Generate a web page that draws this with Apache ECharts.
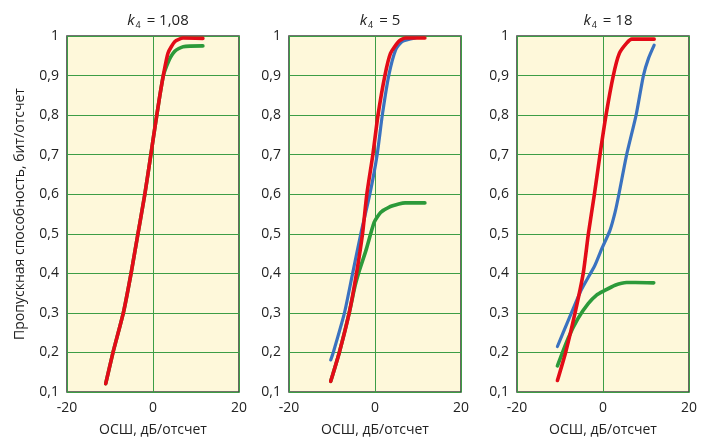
<!DOCTYPE html>
<html><head><meta charset="utf-8">
<script src="https://cdn.jsdelivr.net/npm/echarts@6/dist/echarts.min.js"></script>
<style>html,body{margin:0;padding:0;background:#fff}#c{width:701px;height:442px}</style>
</head><body><div id="c"></div>
<script>
// Panel titles (k4 values)
var panelK = ['1,08', '5', '18'];
var xTicks = [-20, 0, 20];
var yTicks = [0.1, 0.2, 0.3, 0.4, 0.5, 0.6, 0.7, 0.8, 0.9, 1];

// Panel 1 (k4 = 1,08)
var p1RedX = [-11.0, -9.3, -6.9, -5.1, -3.5, -1.9, -0.5, 0.6, 1.6, 2.4, 3.5, 5.1, 7.0, 11.6];
var p1RedY = [0.121, 0.2, 0.3, 0.4, 0.5, 0.6, 0.7, 0.78, 0.85, 0.9, 0.957, 0.986, 0.995, 0.994];
var p1GreenX = [-11.0, -9.3, -6.9, -5.1, -3.5, -1.9, -0.5, 0.6, 1.6, 2.4, 3.2, 4.0, 5.1, 7.0, 11.6];
var p1GreenY = [0.121, 0.2, 0.3, 0.4, 0.5, 0.6, 0.7, 0.78, 0.85, 0.9, 0.925, 0.945, 0.962, 0.973, 0.975];

// Panel 2 (k4 = 5)
var p2RedX = [-10.3, -8.3, -6.0, -4.3, -2.9, -1.9, -0.5, 0.7, 2.3, 3.6, 5.5, 7.0, 11.6];
var p2RedY = [0.127, 0.2, 0.3, 0.4, 0.5, 0.6, 0.70, 0.80, 0.90, 0.956, 0.986, 0.995, 0.995];
var p2BlueX = [-10.3, -9.7, -7.1, -5.2, -3.3, -1.2, 0.5, 1.7, 3.2, 4.8, 6.3, 9.4];
var p2BlueY = [0.181, 0.2, 0.3, 0.4, 0.5, 0.6, 0.70, 0.80, 0.90, 0.965, 0.986, 0.995];
var p2GreenX = [-10.3, -8.3, -6.0, -4.6, -3.7, -2.1, -0.2, 1.3, 3.2, 5.5, 7.0, 11.6];
var p2GreenY = [0.127, 0.2, 0.3, 0.37, 0.405, 0.458, 0.529, 0.554, 0.567, 0.575, 0.578, 0.578];

// Panel 3 (k4 = 18)
var p3RedX = [-10.6, -8.7, -6.5, -4.6, -3.4, -2.0, -0.7, 0.7, 2.4, 3.8, 5.5, 6.7, 11.9];
var p3RedY = [0.129, 0.2, 0.3, 0.4, 0.5, 0.6, 0.70, 0.80, 0.90, 0.956, 0.982, 0.992, 0.992];
var p3BlueX = [-10.6, -8.0, -5.1, -1.9, -0.3, 1.6, 2.8, 3.7, 5.5, 7.7, 9.4, 10.6, 11.9];
var p3BlueY = [0.215, 0.283, 0.357, 0.42, 0.462, 0.508, 0.554, 0.6, 0.70, 0.80, 0.90, 0.944, 0.977];
var p3GreenX = [-10.6, -8.1, -5.8, -3.4, -1.5, 0.1, 2.8, 5.5, 7.5, 11.8];
var p3GreenY = [0.166, 0.236, 0.286, 0.324, 0.345, 0.355, 0.370, 0.377, 0.377, 0.376];

var xName = 'ОСШ, дБ/отсчет';
var yName = 'Пропускная способность, бит/отсчет';

function zip(xs, ys) { return xs.map(function (x, i) { return [x, ys[i]]; }); }

var panels = [
  {left: 67, green: zip(p1GreenX, p1GreenY), blue: null, red: zip(p1RedX, p1RedY)},
  {left: 289, green: zip(p2GreenX, p2GreenY), blue: zip(p2BlueX, p2BlueY), red: zip(p2RedX, p2RedY)},
  {left: 517, green: zip(p3GreenX, p3GreenY), blue: zip(p3BlueX, p3BlueY), red: zip(p3RedX, p3RedY)}
];
var W = 172, TOP = 36, H = 358;
var FONT = '"Open Sans", "Noto Sans", sans-serif';
var COL = {red: '#E30B17', blue: '#3A72C0', green: '#2C9A3A'};
var gridCol = '#3D9D45';

var grids = [], xAxes = [], yAxes = [], series = [], titles = [];
panels.forEach(function (p, i) {
  grids.push({left: p.left, top: TOP, width: W, height: H, show: true,
    backgroundColor: '#FEF8DA', borderColor: '#444', borderWidth: 1.6});
  xAxes.push({type: 'value', gridIndex: i, min: xTicks[0], max: xTicks[xTicks.length - 1], interval: 20,
    axisLine: {show: false}, axisTick: {show: false},
    splitLine: {show: true, lineStyle: {color: gridCol, width: 1}},
    axisLabel: {fontFamily: FONT, fontSize: 14, color: '#222', margin: 9},
    name: xName, nameLocation: 'middle', nameGap: 31,
    nameTextStyle: {fontFamily: FONT, fontSize: 14, color: '#222'}});
  yAxes.push({type: 'value', gridIndex: i, min: 0.1, max: 1, interval: 0.1,
    axisLine: {show: false}, axisTick: {show: false},
    splitLine: {show: true, lineStyle: {color: gridCol, width: 1}},
    axisLabel: {fontFamily: FONT, fontSize: 14, color: '#222', margin: 8,
      formatter: function (v) { return String(Math.round(v * 10) / 10).replace('.', ','); }},
    name: i === 0 ? yName : '', nameLocation: 'middle', nameGap: 40,
    nameTextStyle: {fontFamily: FONT, fontSize: 14, color: '#222'}});
  titles.push({text: '{k|k}{s|4}{t| = ' + panelK[i] + '}', left: p.left + W / 2, top: 6, textAlign: 'center',
    textStyle: {fontWeight: 'normal', rich: {
      k: {fontFamily: FONT, fontSize: 15, fontStyle: 'italic', fontWeight: 'normal', color: '#222'},
      s: {fontFamily: FONT, fontSize: 9, fontWeight: 'normal', color: '#222', padding: [10, 2, 0, 1]},
      t: {fontFamily: FONT, fontSize: 15, fontWeight: 'normal', color: '#222'}}}});
  ['green', 'blue', 'red'].forEach(function (c) {
    if (!p[c]) return;
    series.push({type: 'line', xAxisIndex: i, yAxisIndex: i, data: p[c], showSymbol: false,
      smooth: 0.2, silent: true,
      lineStyle: {color: COL[c], width: c === 'blue' ? 3.2 : 3.6, cap: 'round', join: 'round'}});
  });
});

var chart = echarts.init(document.getElementById('c'), null, {renderer: 'canvas'});
chart.setOption({animation: false, title: titles, grid: grids, xAxis: xAxes, yAxis: yAxes, series: series});
</script></body></html>
